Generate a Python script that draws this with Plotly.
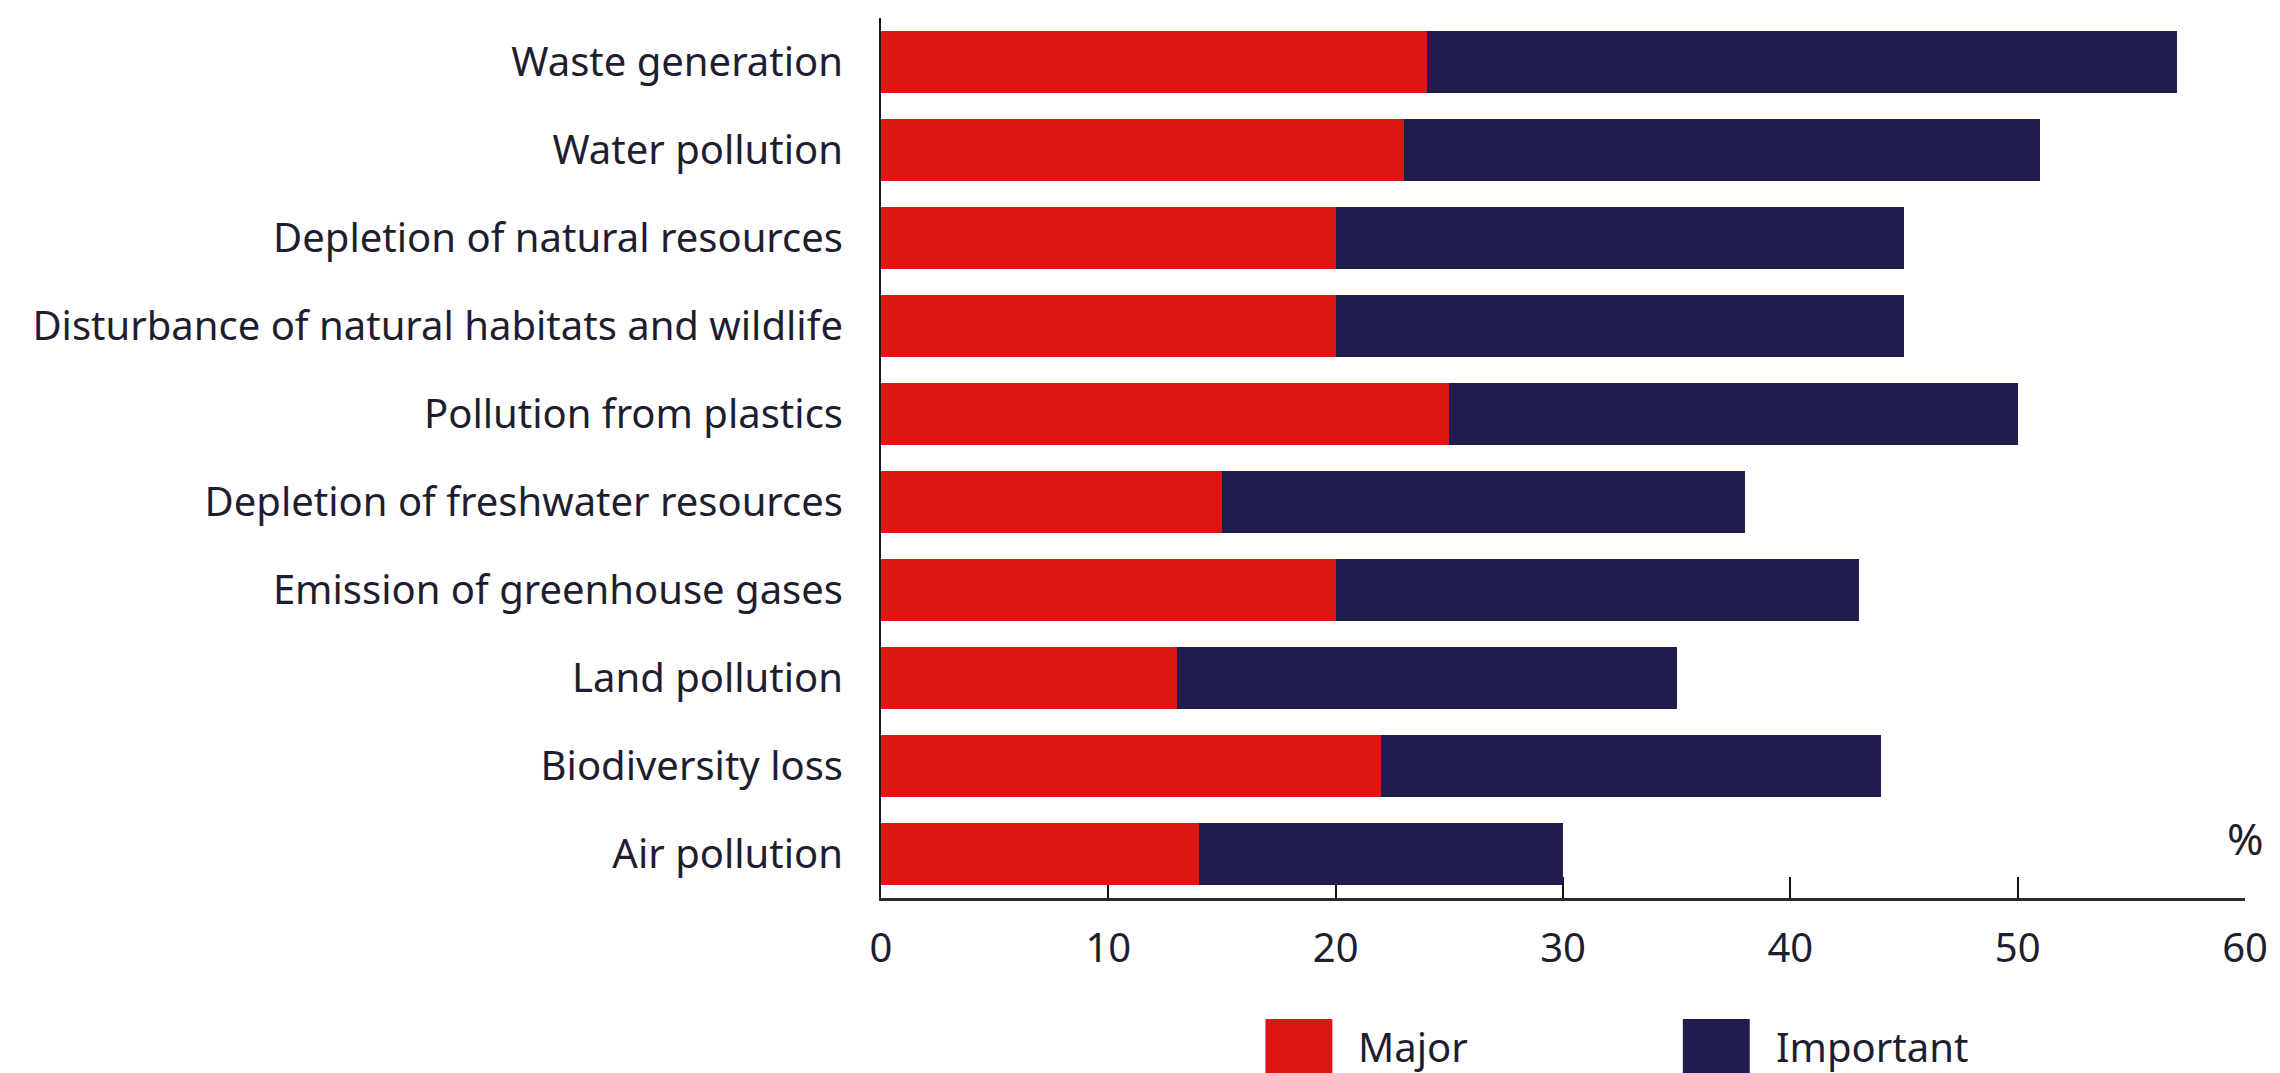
import plotly.graph_objects as go

categories = [
    "Waste generation",
    "Water pollution",
    "Depletion of natural resources",
    "Disturbance of natural habitats and wildlife",
    "Pollution from plastics",
    "Depletion of freshwater resources",
    "Emission of greenhouse gases",
    "Land pollution",
    "Biodiversity loss",
    "Air pollution",
]
major = [24, 23, 20, 20, 25, 15, 20, 13, 22, 14]
important = [33, 28, 25, 25, 25, 23, 23, 22, 22, 16]
x_ticks = [0, 10, 20, 30, 40, 50, 60]
series_names = ["Major", "Important"]

RED = "#DA1710"
NAVY = "#201C4E"
TEXT = "#1E1E30"
FONT = "Noto Sans"

# plot-area geometry in pixels
L, R, T, B = 881, 2247, 17.5, 898
PW, PH = R - L, B - T

fig = go.Figure()
fig.add_trace(go.Bar(y=categories, x=major, orientation="h", name=series_names[0],
                     marker=dict(color=RED, line=dict(width=0))))
fig.add_trace(go.Bar(y=categories, x=important, orientation="h", name=series_names[1],
                     marker=dict(color=NAVY, line=dict(width=0))))

fig.update_layout(
    width=2280, height=1073,
    margin=dict(l=L, r=2280 - R, t=T, b=1073 - B),
    barmode="stack", bargap=0.29,
    plot_bgcolor="white", paper_bgcolor="white",
    showlegend=False,
    font=dict(family=FONT, size=40, color=TEXT),
)
fig.update_xaxes(
    range=[0, 60], tickvals=x_ticks, ticktext=[str(v) for v in x_ticks],
    showgrid=False, zeroline=False, layer="below traces",
    showline=True, linewidth=3, linecolor="#2A2A36",
    ticks="inside", ticklen=21, tickwidth=2, tickcolor="#111111",
    ticklabelstandoff=13, tickfont=dict(size=40, color=TEXT),
)
fig.update_yaxes(
    type="category", categoryorder="array", categoryarray=categories,
    range=[9.5, -0.5],
    showgrid=False, zeroline=False, layer="below traces",
    showline=True, linewidth=2, linecolor="#1A1A26",
    ticks="", ticklabelstandoff=28, tickfont=dict(size=40, color=TEXT),
)

# "%" unit label at the axis end
fig.add_annotation(x=60, y=(B - 838) / PH, xref="x", yref="paper", text="%",
                   showarrow=False, xanchor="center", yanchor="middle",
                   font=dict(size=44, color=TEXT))

# custom legend
legend_items = [(series_names[0], RED, 1266), (series_names[1], NAVY, 1684)]
for name, color, px in legend_items:
    fig.add_shape(type="rect", xref="paper", yref="paper",
                  x0=(px - L) / PW, x1=(px + 67 - L) / PW,
                  y0=(B - 1085) / PH, y1=(B - 1019) / PH,
                  fillcolor=color, line=dict(width=0))
    fig.add_annotation(xref="paper", yref="paper",
                       x=(px + 91 - L) / PW, y=(B - 1047) / PH,
                       text=name, showarrow=False, xanchor="left", yanchor="middle",
                       font=dict(size=40, color=TEXT))

fig.write_html("out.html")
